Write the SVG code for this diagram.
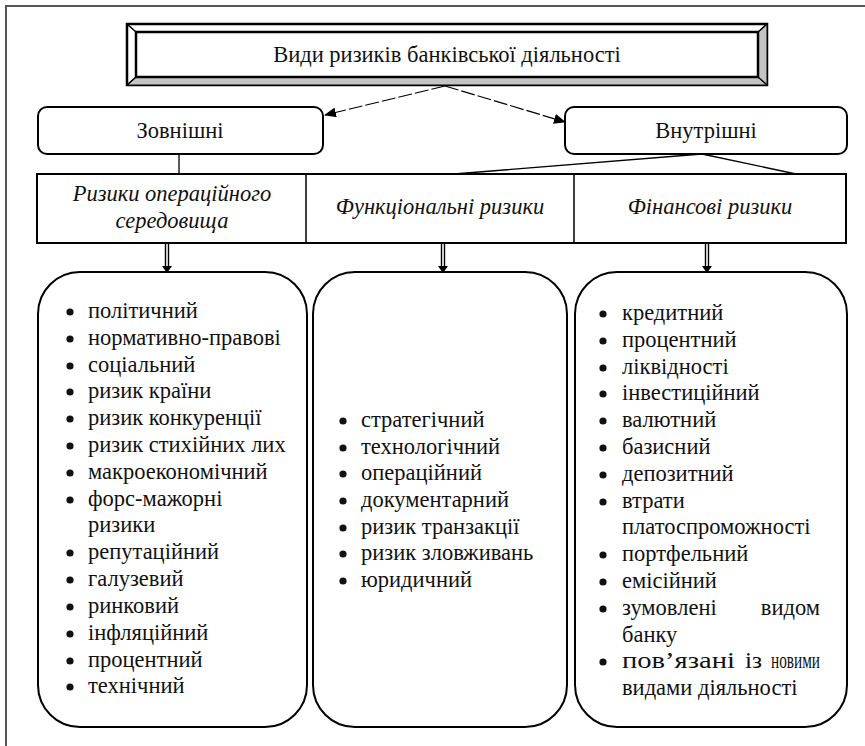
<svg xmlns="http://www.w3.org/2000/svg" width="865" height="746" viewBox="0 0 865 746">
<defs>
<marker id="ah" markerWidth="12" markerHeight="10" refX="11" refY="5" orient="auto" markerUnits="userSpaceOnUse">
<path d="M0,0 L12,5 L0,10 Z" fill="#000"/>
</marker>
</defs>
<rect width="865" height="746" fill="#fff"/>
<path d="M6,746 L6,6 L865,6" fill="none" stroke="#555" stroke-width="2"/>

<g id="title">
<rect x="127" y="24" width="640" height="61" fill="#fff" stroke="#000" stroke-width="2.5"/>
<path d="M758,32 L767,24 L767,85 L127,85 L136,77 L758,77 Z" fill="#c4c4c4" stroke="#000" stroke-width="1"/>
<rect x="136" y="32" width="622" height="45" fill="#fff" stroke="#000" stroke-width="2.5"/>
<path d="M127,24 L136,32 M127,85 L136,77 M767,24 L758,32 M767,85 L758,77" stroke="#000" stroke-width="1.5"/>
<text font-family="Liberation Serif" font-size="22.5" fill="#111" x="447" y="62" text-anchor="middle">Види ризиків банківської діяльності</text>
</g>

<g id="external">
<rect x="38" y="107" width="285" height="47" rx="9" fill="#fff" stroke="#000" stroke-width="2"/>
<text font-family="Liberation Serif" font-size="22.5" fill="#111" x="180" y="138" text-anchor="middle">Зовнішні</text>
</g>
<g id="internal">
<rect x="565" y="107" width="282" height="47" rx="9" fill="#fff" stroke="#000" stroke-width="2"/>
<text font-family="Liberation Serif" font-size="22.5" fill="#111" x="706" y="138" text-anchor="middle">Внутрішні</text>
</g>

<g id="table">
<rect x="37" y="174" width="809" height="69" fill="#fff" stroke="#000" stroke-width="2"/>
<path d="M306,174 V243 M574,174 V243" stroke="#000" stroke-width="1.5"/>
</g>
<g id="h-operational" font-family="Liberation Serif" font-size="22.5" font-style="italic" fill="#111" text-anchor="middle">
<text x="172" y="201">Ризики операційного</text>
<text x="172" y="228">середовища</text>
</g>
<g id="h-functional" font-family="Liberation Serif" font-size="22.5" font-style="italic" fill="#111" text-anchor="middle">
<text x="440" y="214">Функціональні ризики</text>
</g>
<g id="h-financial" font-family="Liberation Serif" font-size="22.5" font-style="italic" fill="#111" text-anchor="middle">
<text x="710" y="214">Фінансові ризики</text>
</g>

<g id="connectors">
<g stroke="#000" stroke-width="1.2" fill="none" stroke-dasharray="14 3">
<line x1="445" y1="86" x2="325" y2="115" marker-end="url(#ah)"/>
<line x1="445" y1="86" x2="565" y2="122" marker-end="url(#ah)"/>
</g>
<path d="M179,154 V174 M702,154 L454,174 M702,154 L796,174" stroke="#000" stroke-width="1.3" fill="none"/>
<path d="M165.5,243 V268 M168.5,243 V268 M441.5,243 V268 M444.5,243 V268 M705.5,243 V268 M708.5,243 V268" stroke="#000" stroke-width="1.4" fill="none"/>
<path d="M162,266 L172,266 L167,273 Z M438,266 L448,266 L443,273 Z M702,266 L712,266 L707,273 Z" fill="#000"/>
</g>

<g id="list-operational">
<rect x="38" y="272" width="269" height="455" rx="42" fill="#fff" stroke="#000" stroke-width="2"/>
<g fill="#111">
<circle cx="70" cy="312" r="3.6"/><circle cx="70" cy="339" r="3.6"/><circle cx="70" cy="366" r="3.6"/><circle cx="70" cy="392" r="3.6"/><circle cx="70" cy="419" r="3.6"/><circle cx="70" cy="446" r="3.6"/><circle cx="70" cy="473" r="3.6"/><circle cx="70" cy="500" r="3.6"/><circle cx="70" cy="553" r="3.6"/><circle cx="70" cy="580" r="3.6"/><circle cx="70" cy="607" r="3.6"/><circle cx="70" cy="634" r="3.6"/><circle cx="70" cy="661" r="3.6"/><circle cx="70" cy="687" r="3.6"/>
</g>
<g font-family="Liberation Serif" font-size="22.5" fill="#111">
<text x="88" y="318">політичний</text>
<text x="88" y="345">нормативно-правові</text>
<text x="88" y="372">соціальний</text>
<text x="88" y="398">ризик країни</text>
<text x="88" y="425">ризик конкуренції</text>
<text x="88" y="452">ризик стихійних лих</text>
<text x="88" y="479">макроекономічний</text>
<text x="88" y="506">форс-мажорні</text>
<text x="88" y="532">ризики</text>
<text x="88" y="559">репутаційний</text>
<text x="88" y="586">галузевий</text>
<text x="88" y="613">ринковий</text>
<text x="88" y="640">інфляційний</text>
<text x="88" y="667">процентний</text>
<text x="88" y="693">технічний</text>
</g>
</g>

<g id="list-functional">
<rect x="313" y="272" width="254" height="455" rx="42" fill="#fff" stroke="#000" stroke-width="2"/>
<g fill="#111">
<circle cx="343" cy="421" r="3.6"/><circle cx="343" cy="448" r="3.6"/><circle cx="343" cy="474" r="3.6"/><circle cx="343" cy="501" r="3.6"/><circle cx="343" cy="528" r="3.6"/><circle cx="343" cy="554" r="3.6"/><circle cx="343" cy="581" r="3.6"/>
</g>
<g font-family="Liberation Serif" font-size="22.5" fill="#111">
<text x="361" y="427">стратегічний</text>
<text x="361" y="454">технологічний</text>
<text x="361" y="480">операційний</text>
<text x="361" y="507">документарний</text>
<text x="361" y="534">ризик транзакції</text>
<text x="361" y="560">ризик зловживань</text>
<text x="361" y="587">юридичний</text>
</g>
</g>

<g id="list-financial">
<rect x="575" y="272" width="272" height="455" rx="42" fill="#fff" stroke="#000" stroke-width="2"/>
<g fill="#111">
<circle cx="603" cy="314" r="3.6"/><circle cx="603" cy="341" r="3.6"/><circle cx="603" cy="368" r="3.6"/><circle cx="603" cy="394" r="3.6"/><circle cx="603" cy="421" r="3.6"/><circle cx="603" cy="448" r="3.6"/><circle cx="603" cy="475" r="3.6"/><circle cx="603" cy="502" r="3.6"/><circle cx="603" cy="555" r="3.6"/><circle cx="603" cy="582" r="3.6"/><circle cx="603" cy="609" r="3.6"/><circle cx="603" cy="662" r="3.6"/>
</g>
<g font-family="Liberation Serif" font-size="22.5" fill="#111">
<text x="622" y="320">кредитний</text>
<text x="622" y="347">процентний</text>
<text x="622" y="374">ліквідності</text>
<text x="622" y="400">інвестиційний</text>
<text x="622" y="427">валютний</text>
<text x="622" y="454">базисний</text>
<text x="622" y="481">депозитний</text>
<text x="622" y="508">втрати</text>
<text x="622" y="534">платоспроможності</text>
<text x="622" y="561">портфельний</text>
<text x="622" y="588">емісійний</text>
<text x="622" y="615">зумовлені</text>
<text x="820" y="615" text-anchor="end">видом</text>
<text x="622" y="642">банку</text>
<text x="622" y="668" textLength="113" lengthAdjust="spacingAndGlyphs">пов’язані</text>
<text x="745" y="668" textLength="17" lengthAdjust="spacingAndGlyphs">із</text>
<text x="771" y="668" textLength="49" lengthAdjust="spacingAndGlyphs">новими</text>
<text x="622" y="695">видами діяльності</text>
</g>
</g>
</svg>
